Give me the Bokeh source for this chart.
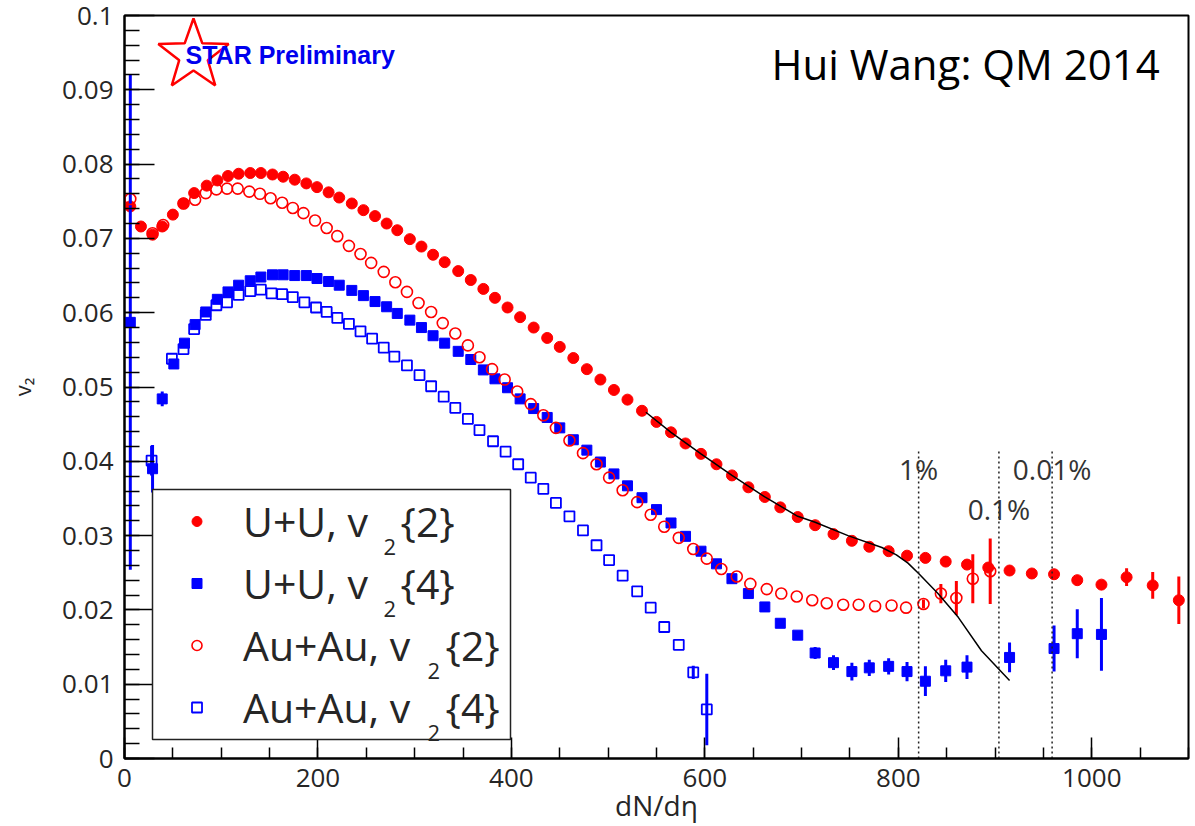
import math
from bokeh.plotting import figure
from bokeh.models import (FixedTicker, Label, Legend, LegendItem, BoxAnnotation,
                          PolyAnnotation)
from bokeh.core.properties import value
from bokeh.embed import file_html
from bokeh.resources import INLINE

# ---------------- data ----------------
# U+U, v2{2}  (filled red circles)
UU_V22_X = [6, 17, 29, 39, 50, 61, 72, 85, 96, 107, 118, 130, 141, 153, 164, 176, 188, 199,
            211, 222, 235, 247, 259, 271, 282, 295, 307, 319, 331, 345, 358, 371, 383, 396,
            409, 423, 437, 450, 464, 478, 492, 506, 520, 535, 550, 565, 580, 596, 612, 628,
            645, 662, 678, 696, 714, 733, 752, 770, 790, 809, 828, 849, 871, 893, 915, 938,
            961, 985, 1010, 1036, 1063, 1090]
UU_V22_Y = [0.0743, 0.0716, 0.0705, 0.0716, 0.0732, 0.0747, 0.0761, 0.0771, 0.0778, 0.0784,
            0.0787, 0.0788, 0.0788, 0.0786, 0.0783, 0.0779, 0.0774, 0.0769, 0.0762, 0.0755,
            0.0747, 0.0738, 0.0730, 0.0720, 0.0711, 0.0699, 0.0689, 0.0678, 0.0668, 0.0656,
            0.0644, 0.0632, 0.0620, 0.0607, 0.0594, 0.0580, 0.0566, 0.0554, 0.0539, 0.0524,
            0.0510, 0.0496, 0.0483, 0.0468, 0.0453, 0.0439, 0.0424, 0.0410, 0.0396, 0.0381,
            0.0365, 0.0352, 0.0338, 0.0325, 0.0314, 0.0302, 0.0293, 0.0285, 0.0279, 0.0273,
            0.0270, 0.0265, 0.0261, 0.0257, 0.0253, 0.0249, 0.0248, 0.0240, 0.0234, 0.0244,
            0.0233, 0.0213]
UU_V22_ERR = [0] * 69 + [0.0012, 0.0018, 0.0032]

# U+U, v2{4}  (filled blue squares)
UU_V24_X = [6, 29, 39, 51, 62, 73, 84, 96, 107, 118, 130, 141, 153, 164, 176, 188, 199, 211,
            222, 235, 247, 259, 271, 282, 295, 307, 319, 331, 345, 358, 371, 383, 396, 409,
            423, 437, 450, 464, 478, 492, 506, 520, 535, 550, 565, 580, 596, 612, 628, 645,
            662, 678, 696, 714, 733, 752, 770, 790, 809, 828, 849, 871, 915, 961, 985, 1010]
UU_V24_Y = [0.0587, 0.0390, 0.0484, 0.0531, 0.0559, 0.0584, 0.0601, 0.0618, 0.0628, 0.0637,
            0.0643, 0.0648, 0.0651, 0.0651, 0.0650, 0.0650, 0.0646, 0.0642, 0.0637, 0.0630,
            0.0623, 0.0615, 0.0608, 0.0599, 0.0590, 0.0580, 0.0569, 0.0559, 0.0548, 0.0537,
            0.0523, 0.0511, 0.0499, 0.0484, 0.0471, 0.0459, 0.0445, 0.0429, 0.0415, 0.0399,
            0.0383, 0.0367, 0.0351, 0.0335, 0.0317, 0.0299, 0.0279, 0.0262, 0.0242, 0.0222,
            0.0204, 0.0182, 0.0166, 0.0142, 0.0129, 0.0117, 0.0122, 0.0124, 0.0117, 0.0104,
            0.0118, 0.0123, 0.0136, 0.0148, 0.0168, 0.0167]
UU_V24_ERR = [0.0333, 0.0032, 0.0010] + [0] * 50 + [0.0008, 0.0010, 0.0012, 0.0011, 0.0011,
              0.0013, 0.0020, 0.0015, 0.0016, 0.0020, 0.0031, 0.0033, 0.0049]

# Au+Au, v2{2}  (open red circles)
AU_V22_X = [6, 29, 40, 61, 73, 84, 95, 106, 117, 129, 140, 151, 163, 174, 185, 197, 209, 220,
            232, 244, 255, 268, 280, 292, 304, 317, 329, 342, 355, 367, 380, 393, 406, 420,
            433, 446, 460, 474, 488, 501, 515, 530, 544, 558, 573, 588, 602, 617, 633, 647,
            664, 679, 695, 711, 726, 743, 759, 776, 793, 808, 826, 844, 860, 877, 895]
AU_V22_Y = [0.0753, 0.0707, 0.0718, 0.0747, 0.0752, 0.0761, 0.0766, 0.0767, 0.0767, 0.0763,
            0.0760, 0.0754, 0.0748, 0.0741, 0.0734, 0.0724, 0.0714, 0.0703, 0.0690, 0.0679,
            0.0667, 0.0655, 0.0641, 0.0628, 0.0613, 0.0601, 0.0586, 0.0572, 0.0556, 0.0540,
            0.0524, 0.0510, 0.0494, 0.0477, 0.0462, 0.0445, 0.0428, 0.0411, 0.0396, 0.0378,
            0.0361, 0.0345, 0.0328, 0.0312, 0.0297, 0.0282, 0.0269, 0.0255, 0.0245, 0.0235,
            0.0228, 0.0222, 0.0218, 0.0213, 0.0209, 0.0207, 0.0207, 0.0205, 0.0206, 0.0203,
            0.0208, 0.0222, 0.0216, 0.0242, 0.0252]
AU_V22_ERR = [0] * 60 + [0.0006, 0.0013, 0.0023, 0.0033, 0.0044]

# Au+Au, v2{4}  (open blue squares)
AU_V24_X = [28, 49, 61, 72, 84, 95, 106, 118, 130, 141, 152, 163, 174, 186, 198, 209, 220,
            232, 244, 256, 268, 279, 292, 305, 317, 330, 342, 355, 367, 381, 394, 407, 420,
            433, 446, 460, 474, 488, 501, 515, 530, 544, 558, 573, 588, 602]
AU_V24_Y = [0.0401, 0.0538, 0.0551, 0.0578, 0.0597, 0.0610, 0.0614, 0.0624, 0.0629, 0.0631,
            0.0626, 0.0625, 0.0621, 0.0614, 0.0607, 0.0601, 0.0593, 0.0585, 0.0575, 0.0565,
            0.0553, 0.0541, 0.0529, 0.0516, 0.0501, 0.0487, 0.0472, 0.0457, 0.0442, 0.0427,
            0.0413, 0.0396, 0.0378, 0.0363, 0.0344, 0.0326, 0.0307, 0.0287, 0.0267, 0.0246,
            0.0225, 0.0203, 0.0177, 0.0153, 0.0116, 0.0066]
AU_V24_ERR = [0.0020] + [0] * 43 + [0.0009, 0.0048]

# black curve
CURVE_X = [539, 565, 596, 628, 662, 696, 714, 748, 783, 798, 810, 821, 841, 862, 886, 915]
CURVE_Y = [0.0466, 0.0439, 0.0410, 0.0381, 0.0352, 0.0326, 0.0318, 0.0300, 0.0284, 0.0274,
           0.0263, 0.0249, 0.0222, 0.0190, 0.0145, 0.0105]

# centrality cuts
CUT_X = [821, 904, 959]
CUT_LABELS = ["1%", "0.1%", "0.01%"]
CUT_TOP = 0.0415

# axes
X_TICKS = [0, 200, 400, 600, 800, 1000]
X_TICK_LABELS = ["0", "200", "400", "600", "800", "1000"]
Y_TICKS = [0.0, 0.01, 0.02, 0.03, 0.04, 0.05, 0.06, 0.07, 0.08, 0.09, 0.1]
Y_TICK_LABELS = ["0", "0.01", "0.02", "0.03", "0.04", "0.05", "0.06", "0.07", "0.08", "0.09", "0.1"]
X_TITLE = "dN/dη"
Y_TITLE = "v₂"

# ---------------- layout constants ----------------
W, H = 1195, 826
FL, FR, FT, FB = 124, 1188, 15, 758   # frame edges on the canvas
RED = "#ff0000"
BLUE = "#0000ff"
TXT = "#262626"
FONT = "Open Sans"


def fx(cx):
    return cx - FL


def fy(cy):
    return FB - cy


p = figure(width=W, height=H, x_range=(0, 1100), y_range=(0, 0.1),
           output_backend="svg", toolbar_location=None, title=None,
           min_border_left=FL, min_border_right=W - FR, min_border_top=FT,
           min_border_bottom=H - FB,
           background_fill_color="white", border_fill_color="white")
p.xgrid.visible = False
p.ygrid.visible = False
p.outline_line_color = "black"
p.outline_line_width = 2

xa = p.xaxis[0]
xa.ticker = FixedTicker(ticks=X_TICKS, minor_ticks=list(range(0, 1101, 50)))
xa.major_label_overrides = {t: l for t, l in zip(X_TICKS, X_TICK_LABELS)}
xa.major_tick_in = 21
xa.major_tick_out = 0
xa.minor_tick_in = 11
xa.minor_tick_out = 0
xa.major_label_standoff = 10
xa.axis_label = X_TITLE
xa.axis_label_standoff = -4
xa.axis_label_text_font_size = "28px"

ya = p.yaxis[0]
ya.ticker = FixedTicker(ticks=Y_TICKS, minor_ticks=[round(i * 0.002, 4) for i in range(51)])
ya.major_label_overrides = {t: l for t, l in zip(Y_TICKS, Y_TICK_LABELS)}
ya.major_tick_in = 30
ya.major_tick_out = 0
ya.minor_tick_in = 15
ya.minor_tick_out = 0
ya.major_label_standoff = 11
ya.axis_label = Y_TITLE
ya.axis_label_standoff = 22
ya.axis_label_text_font_size = "22px"

for ax in (xa, ya):
    ax.axis_line_width = 2
    ax.axis_line_color = "black"
    ax.major_tick_line_width = 1.5
    ax.minor_tick_line_width = 1.5
    ax.major_tick_line_color = "black"
    ax.minor_tick_line_color = "black"
    ax.major_label_text_font = FONT
    ax.major_label_text_font_size = "26px"
    ax.major_label_text_color = TXT
    ax.axis_label_text_font = FONT
    ax.axis_label_text_font_style = "normal"
    ax.axis_label_text_color = TXT


def errbars(xs, ys, es, color):
    x = [a for a, e in zip(xs, es) if e > 0]
    y0 = [b - e for b, e in zip(ys, es) if e > 0]
    y1 = [b + e for b, e in zip(ys, es) if e > 0]
    p.segment(x0=x, y0=y0, x1=x, y1=y1, line_color=color, line_width=3)


errbars(UU_V22_X, UU_V22_Y, UU_V22_ERR, RED)
r_uu2 = p.scatter(UU_V22_X, UU_V22_Y, marker="circle", size=11,
                  fill_color=RED, line_color=RED)
errbars(UU_V24_X, UU_V24_Y, UU_V24_ERR, BLUE)
r_uu4 = p.scatter(UU_V24_X, UU_V24_Y, marker="square", size=10,
                  fill_color=BLUE, line_color=BLUE)
errbars(AU_V24_X, AU_V24_Y, AU_V24_ERR, BLUE)
r_au4 = p.scatter(AU_V24_X, AU_V24_Y, marker="square", size=10,
                  fill_color=None, line_color=BLUE, line_width=1.8)
errbars(AU_V22_X, AU_V22_Y, AU_V22_ERR, RED)
r_au2 = p.scatter(AU_V22_X, AU_V22_Y, marker="circle", size=11,
                  fill_color=None, line_color=RED, line_width=1.6)

p.line(CURVE_X, CURVE_Y, line_color="black", line_width=1.5)

p.segment(x0=CUT_X, y0=[0] * len(CUT_X), x1=CUT_X, y1=[CUT_TOP] * len(CUT_X),
          line_color="#222222", line_width=1.5, line_dash="2 3")
p.text(x=CUT_X, y=[0.0390, 0.0336, 0.0390], text=CUT_LABELS,
       text_font=value(FONT), text_font_size="28px", text_color="#333333",
       text_align="center", text_baseline="middle")

# ---------------- legend ----------------
p.add_layout(BoxAnnotation(left=fx(152), right=fx(510), bottom=fy(739), top=fy(489),
                           left_units="screen", right_units="screen",
                           bottom_units="screen", top_units="screen",
                           fill_color="white", fill_alpha=1.0,
                           line_color="#222222", line_alpha=1.0, line_width=1.5))

legend = Legend(items=[LegendItem(label="U+U, v", renderers=[r_uu2]),
                       LegendItem(label="U+U, v", renderers=[r_uu4]),
                       LegendItem(label="Au+Au, v", renderers=[r_au2]),
                       LegendItem(label="Au+Au, v", renderers=[r_au4])],
                location=(fx(184), fy(738)), orientation="vertical",
                padding=0, spacing=0, margin=0,
                glyph_width=25, glyph_height=62, label_height=62, label_width=200,
                label_standoff=34, border_line_color=None, background_fill_alpha=0,
                label_text_font=FONT, label_text_font_size="41px",
                label_text_color=TXT)
p.add_layout(legend)

ROW_CENTERS = [521, 583, 645, 707]
SUB_X = [383, 383, 427, 427]
BRACE_X = [400, 400, 445, 445]
BRACES = ["{2}", "{4}", "{2}", "{4}"]
for rc, sx, bx, br in zip(ROW_CENTERS, SUB_X, BRACE_X, BRACES):
    p.add_layout(Label(x=fx(sx), y=fy(rc + 25), x_units="screen", y_units="screen",
                       text="2", text_font=FONT, text_font_size="22px",
                       text_color=TXT, text_baseline="middle"))
    p.add_layout(Label(x=fx(bx), y=fy(rc - 1), x_units="screen", y_units="screen",
                       text=br, text_font=FONT, text_font_size="41px",
                       text_color=TXT, text_baseline="middle"))

# ---------------- header texts and logo ----------------
p.add_layout(Label(x=fx(771), y=fy(63), x_units="screen", y_units="screen",
                   text="Hui Wang: QM 2014", text_font=FONT, text_font_size="42px",
                   text_color="black", text_baseline="middle"))

cx, cy, ro, ri = 193, 55, 37, 15
star_x, star_y = [], []
for k in range(10):
    r = ro if k % 2 == 0 else ri
    a = math.pi / 2 + k * math.pi / 5
    star_x.append(fx(cx + r * math.cos(a)))
    star_y.append(fy(cy - r * math.sin(a)))
p.add_layout(PolyAnnotation(xs=star_x, ys=star_y, xs_units="screen", ys_units="screen",
                            fill_color="white", fill_alpha=1.0,
                            line_color=RED, line_alpha=1.0, line_width=2.5))
p.add_layout(Label(x=fx(185), y=fy(54), x_units="screen", y_units="screen",
                   text="STAR Preliminary", text_font="Liberation Sans",
                   text_font_style="bold", text_font_size="25px",
                   text_color="#0000ee", text_baseline="middle"))

open("out.html", "w").write(file_html(p, INLINE))
